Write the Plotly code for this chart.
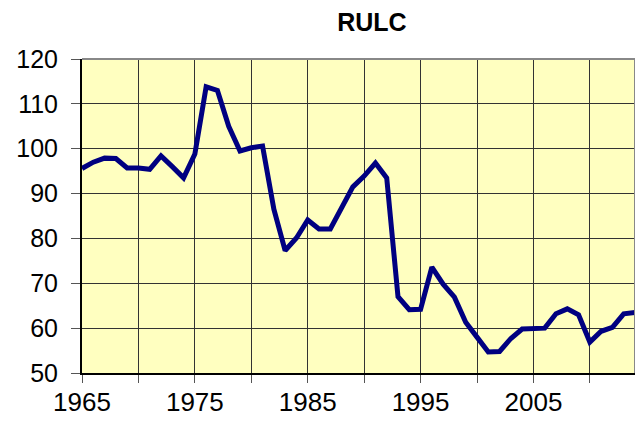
import plotly.graph_objects as go

years = list(range(1965, 2015))
rulc = [95.6, 97.0, 97.9, 97.8, 95.7, 95.7, 95.4, 98.4, 96.0, 93.5,
        98.8, 113.8, 113.0, 105.0, 99.5, 100.2, 100.6, 86.5, 77.3, 80.1,
        84.1, 82.1, 82.1, 86.9, 91.5, 93.9, 96.8, 93.5, 67.0, 64.1,
        64.2, 73.6, 69.8, 66.9, 61.3, 58.0, 54.7, 54.8, 57.7, 59.8,
        59.9, 60.0, 63.2, 64.3, 63.0, 56.9, 59.3, 60.2, 63.2, 63.5]
x_ticks = list(range(1965, 2015, 5))
x_labels = [str(y) if (y - 1965) % 10 == 0 else "" for y in x_ticks]
y_ticks = list(range(50, 121, 10))

fig = go.Figure()
fig.add_trace(go.Scatter(x=years, y=rulc, mode="lines",
                         line=dict(color="#000080", width=5)))

fam = "Liberation Sans, Arial, sans-serif"
fig.update_layout(
    width=635, height=417,
    margin=dict(l=74, r=8, t=51, b=48),
    paper_bgcolor="white", plot_bgcolor="#FFFFC0",
    showlegend=False,
    title=dict(text="<b>RULC</b>", x=0.573, xanchor="center", y=0.966, yanchor="middle",
               font=dict(family=fam, size=25, color="black")),
    xaxis=dict(range=[1965, 2014], tickvals=x_ticks, ticktext=x_labels,
               showgrid=True, gridcolor="#333333", gridwidth=1,
               ticks="outside", ticklen=8, tickcolor="#555555",
               ticklabelstandoff=-3,
               showline=True, linecolor="black", linewidth=2,
               zeroline=False, tickfont=dict(family=fam, size=26, color="black")),
    yaxis=dict(range=[50, 120], tickvals=y_ticks,
               showgrid=True, gridcolor="#333333", gridwidth=1,
               ticks="outside", ticklen=9, tickcolor="#555555",
               ticklabelstandoff=8,
               showline=True, linecolor="black", linewidth=2,
               zeroline=False, tickfont=dict(family=fam, size=25, color="black")),
)
fig.add_shape(type="line", xref="paper", yref="paper", x0=0, x1=1, y0=1, y1=1,
              line=dict(color="#888888", width=2), layer="above")
fig.add_shape(type="line", xref="paper", yref="paper", x0=1, x1=1, y0=0, y1=1,
              line=dict(color="#888888", width=2), layer="above")
fig.write_html("out.html")
